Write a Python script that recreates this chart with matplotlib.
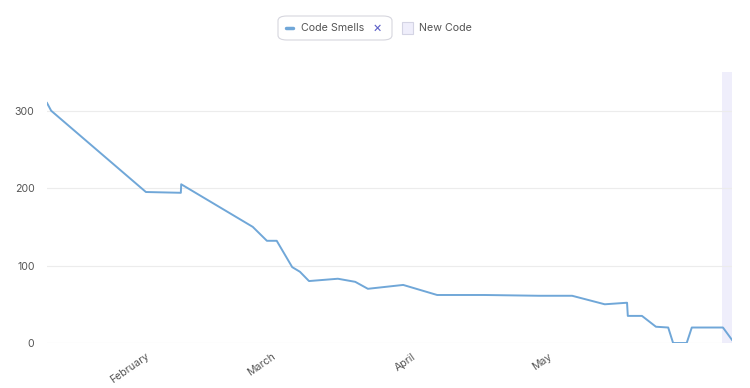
import matplotlib
matplotlib.use("Agg")
import matplotlib.pyplot as plt
import matplotlib.dates as mdates
from matplotlib.patches import FancyBboxPatch, Rectangle
from matplotlib.lines import Line2D
import pandas as pd

plt.rcParams['font.family'] = ['Inter', 'DejaVu Sans']

dates = ["2023-01-10 09:00", "2023-01-11 07:00", "2023-02-01 05:00", "2023-02-08 22:00",
         "2023-02-09 00:00", "2023-02-24 19:00", "2023-02-27 22:00", "2023-03-02 02:00",
         "2023-03-05 12:00", "2023-03-07 05:00", "2023-03-09 05:00", "2023-03-15 14:00",
         "2023-03-19 10:00", "2023-03-22 05:00", "2023-03-30 00:00", "2023-04-06 12:00",
         "2023-04-17 00:00", "2023-04-29 00:00", "2023-05-06 07:00", "2023-05-13 12:00",
         "2023-05-18 10:00", "2023-05-18 14:00", "2023-05-21 17:00", "2023-05-24 19:00",
         "2023-05-27 12:00", "2023-05-28 14:00", "2023-05-31 14:00", "2023-06-01 17:00",
         "2023-06-08 14:00", "2023-06-10 14:00"]
code_smells = [310, 300, 195, 194, 205, 150, 132, 132, 98, 92, 80, 83, 79, 70, 75, 62,
               62, 61, 61, 50, 52, 35, 35, 21, 20, 0, 0, 20, 20, 4]
new_code_start = "2023-06-08 10:00"
tick_dates = ["2023-02-01", "2023-03-01", "2023-04-01", "2023-05-01"]
tick_labels = ["February", "March", "April", "May"]
y_ticks = [0, 100, 200, 300]

x = pd.to_datetime(dates)
W, H = 750, 388
fig = plt.figure(figsize=(W / 100, H / 100), dpi=100)
ax = fig.add_axes([47 / W, 1 - 343 / H, (732 - 47) / W, (343 - 72) / H])

ax.axvspan(pd.to_datetime(new_code_start), x[-1], color='#efeefb', zorder=0, lw=0)
ax.plot(x, code_smells, color='#70a7d8', lw=1.4, zorder=3)

ax.set_xlim(x[0], x[-1])
ax.set_ylim(0, 350)
ax.set_yticks(y_ticks)
ax.set_yticklabels([str(v) for v in y_ticks])
ax.set_xticks(pd.to_datetime(tick_dates))
ax.set_xticklabels(tick_labels, rotation=35, ha='right', rotation_mode='anchor')
for s in ax.spines.values():
    s.set_visible(False)
ax.tick_params(axis='both', length=0, labelsize=7.6, labelcolor='#555555')
ax.tick_params(axis='y', pad=9)
ax.tick_params(axis='x', pad=6)
ax.grid(axis='y', color='#ececec', lw=0.8, zorder=1)
ax.grid(axis='x', visible=False)
ax.set_axisbelow(True)

# legend
def fx(px):
    return px / W

def fy(py):
    return 1 - py / H

box = FancyBboxPatch((fx(278), fy(40)), fx(392) - fx(278), fy(16) - fy(40),
                     boxstyle="round,pad=0,rounding_size=0.012", transform=fig.transFigure,
                     facecolor='white', edgecolor='#d6d6de', lw=0.8)
fig.add_artist(box)
fig.add_artist(Line2D([fx(286), fx(293)], [fy(28), fy(28)], transform=fig.transFigure,
                      color='#70a7d8', lw=2.5, solid_capstyle='round'))
fig.text(fx(301), fy(28), "Code Smells", fontsize=7.7, color='#555555', va='center', ha='left')
fig.text(fx(377), fy(28), "×", fontsize=10, color='#5b5fc7', va='center', ha='center')
fig.add_artist(Rectangle((fx(402), fy(34)), fx(413) - fx(402), fy(22) - fy(34),
                         transform=fig.transFigure, facecolor='#efeefb', edgecolor='#d4d4e4', lw=0.8))
fig.text(fx(419), fy(28), "New Code", fontsize=7.7, color='#555555', va='center', ha='left')

fig.savefig("out.png", dpi=100)
